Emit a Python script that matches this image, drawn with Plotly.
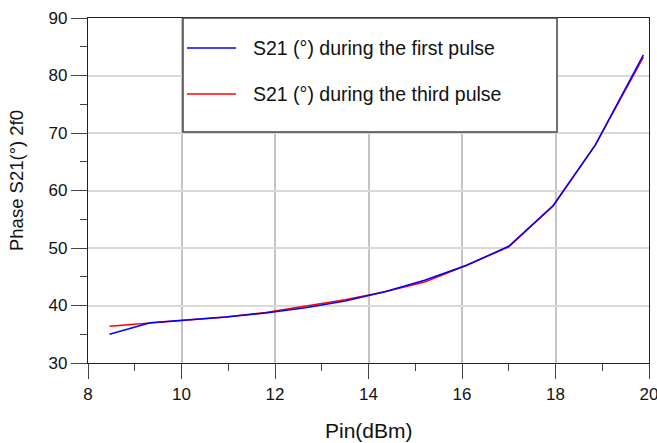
import plotly.graph_objects as go

# Data
pin_dbm = [8.46, 9.33, 10.1, 10.95, 11.8, 12.65, 13.5, 14.35, 15.2, 16.1, 17.0, 17.95, 18.85, 19.88]
phase_first = [35.0, 37.0, 37.5, 38.0, 38.7, 39.6, 40.8, 42.4, 44.4, 47.0, 50.3, 57.4, 67.9, 83.6]
phase_third = [36.4, 37.0, 37.5, 38.0, 38.8, 39.9, 41.0, 42.4, 44.1, 47.0, 50.2, 57.3, 67.9, 83.2]

name_first = "S21 (°) during the first pulse"
name_third = "S21 (°) during the third pulse"
x_title = "Pin(dBm)"
y_title = "Phase S21(°) 2f0"

FONT = "Liberation Sans, Arial, sans-serif"

fig = go.Figure()
fig.add_trace(go.Scatter(x=pin_dbm, y=phase_third, mode="lines", name=name_third,
                         line=dict(color="#ff0000", width=1.5), showlegend=False))
fig.add_trace(go.Scatter(x=pin_dbm, y=phase_first, mode="lines", name=name_first,
                         line=dict(color="#0000ff", width=1.5), showlegend=False))

# Manual legend box (paper coordinates)
fig.add_shape(type="rect", xref="paper", yref="paper", x0=0.1693, x1=0.836, y0=0.6696, y1=1.0,
              line=dict(color="#444444", width=1.5), fillcolor="white", layer="above")
legend_items = [(name_first, "#0000ff", 0.913), (name_third, "#ff0000", 0.7797)]
for label, color, yy in legend_items:
    fig.add_shape(type="line", xref="paper", yref="paper", x0=0.1765, x1=0.2638, y0=yy, y1=yy,
                  line=dict(color=color, width=1.5), layer="above")
    fig.add_annotation(xref="paper", yref="paper", x=0.2906, y=yy, text=label, showarrow=False,
                       xanchor="left", yanchor="middle", font=dict(family=FONT, size=19.5, color="#111111"))

# Axis titles
fig.add_annotation(xref="paper", yref="paper", x=0.5, y=-0.197, text=x_title, showarrow=False,
                   xanchor="center", yanchor="middle", font=dict(family=FONT, size=21, color="#111111"))
fig.add_annotation(xref="paper", yref="paper", x=-0.1283, y=0.5275, text=y_title, showarrow=False,
                   textangle=-90, xanchor="center", yanchor="middle",
                   font=dict(family=FONT, size=18.5, color="#111111"))

fig.update_layout(
    width=657, height=443,
    margin=dict(l=88, r=8, t=18, b=80, autoexpand=False),
    paper_bgcolor="white", plot_bgcolor="white",
    font=dict(family=FONT, size=17, color="#111111"),
    xaxis=dict(
        range=[8, 20], dtick=2, tick0=8, automargin=False,
        ticks="outside", ticklen=15, tickwidth=1, tickcolor="#444444",
        showline=True, mirror=True, linecolor="#222222", linewidth=1.3,
        showgrid=True, gridcolor="#c4c4c4", gridwidth=1.5,
        zeroline=False, ticklabeloverflow="allow",
        minor=dict(dtick=1, tick0=8, ticks="outside", ticklen=7, tickcolor="#444444", showgrid=False),
        tickfont=dict(size=17),
    ),
    yaxis=dict(
        range=[30, 90], dtick=10, tick0=30, automargin=False,
        ticks="outside", ticklen=16, tickwidth=1, tickcolor="#444444",
        showline=True, mirror=True, linecolor="#222222", linewidth=1.3,
        showgrid=True, gridcolor="#d9d9d9", gridwidth=2,
        zeroline=False,
        minor=dict(dtick=5, tick0=30, ticks="outside", ticklen=7, tickcolor="#444444", showgrid=False),
        tickfont=dict(size=17),
    ),
)

fig.write_html("out.html")
